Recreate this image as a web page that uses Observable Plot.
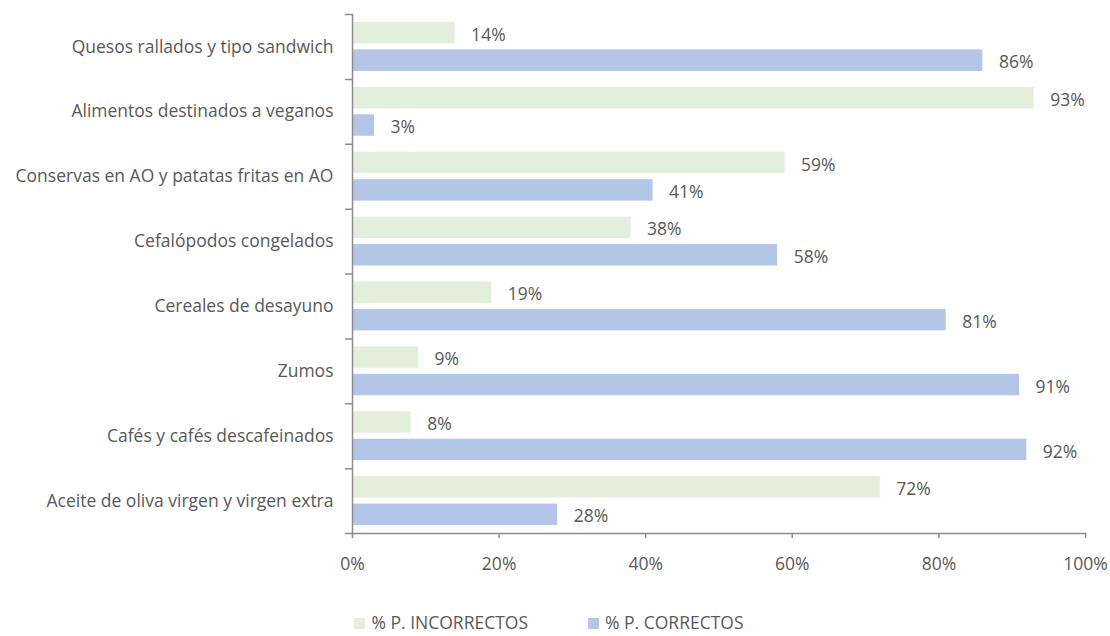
<!DOCTYPE html>
<html><head><meta charset="utf-8">
<script src="https://cdn.jsdelivr.net/npm/d3@7"></script>
<script src="https://cdn.jsdelivr.net/npm/@observablehq/plot@0.6"></script>
<style>
body{margin:0;background:#fff;font-family:"Open Sans",sans-serif;color:#595959;}
#legend{display:flex;justify-content:center;gap:60px;font-size:17.5px;margin-top:3px;padding-right:12px;line-height:22px;}
#legend span.sw{display:inline-block;width:11px;height:11px;margin-right:6px;vertical-align:0px;}
</style></head>
<body>
<div id="chart"></div>
<div id="legend"></div>
<script>
const categories = ["Quesos rallados y tipo sandwich","Alimentos destinados a veganos","Conservas en AO y patatas fritas en AO","Cefalópodos congelados","Cereales de desayuno","Zumos","Cafés y cafés descafeinados","Aceite de oliva virgen y virgen extra"];
const incorrectos = [14, 93, 59, 38, 19, 9, 8, 72];
const correctos = [86, 3, 41, 58, 81, 91, 92, 28];
const seriesNames = ["% P. INCORRECTOS", "% P. CORRECTOS"];
const seriesColors = ["#E2EFDA", "#B4C6E7"];
const xTicks = [0, 20, 40, 60, 80, 100];

const data = [];
categories.forEach((c, i) => {
  data.push({cat: c, series: seriesNames[0], value: incorrectos[i]});
  data.push({cat: c, series: seriesNames[1], value: correctos[i]});
});

const tickShape = {draw(ctx, l) { ctx.moveTo(0, 0); ctx.lineTo(0, -l); }};
const axisColor = "#8c8c8c";
const sw = 1.5;
const fs = 17.5;

const chart = Plot.plot({
  width: 1110, height: 608,
  marginLeft: 352, marginRight: 25, marginTop: 14, marginBottom: 75,
  style: {fontFamily: "Open Sans, sans-serif", fontSize: fs + "px", color: "#595959", background: "#fff"},
  fy: {domain: categories, padding: 0, round: false, label: null},
  y: {domain: seriesNames, paddingInner: 0.22, paddingOuter: 0.29, round: false, axis: null},
  x: {domain: [0, 100]},
  color: {domain: seriesNames, range: seriesColors},
  marks: [
    Plot.barX(data, {fy: "cat", y: "series", x: "value", fill: "series"}),
    Plot.text(data, {fy: "cat", y: "series", x: "value", text: d => d.value + "%", textAnchor: "start", dx: 16, dy: 2, fill: "#595959", fontSize: fs}),
    Plot.ruleX([0], {stroke: axisColor, strokeWidth: sw}),
    Plot.vector([0], {frameAnchor: "top-left", rotate: -90, length: 7, anchor: "start", shape: tickShape, stroke: axisColor, strokeWidth: sw}),
    Plot.vector([0], {frameAnchor: "bottom-left", facetAnchor: "bottom", rotate: -90, length: 7, anchor: "start", shape: tickShape, stroke: axisColor, strokeWidth: sw}),
    Plot.frame({anchor: "bottom", facetAnchor: "bottom", stroke: axisColor, strokeWidth: sw}),
    Plot.axisFy({anchor: "left", tickSize: 0, tickPadding: 19, label: null, fontSize: fs, fill: "#595959"}),
    Plot.axisX({ticks: xTicks, tickFormat: d => d + "%", tickSize: 5, tickPadding: 19, label: null, stroke: axisColor, strokeWidth: sw, fill: "#595959", fontSize: fs})
  ]
});
document.getElementById("chart").append(chart);

const legend = document.getElementById("legend");
seriesNames.forEach((s, i) => {
  const item = document.createElement("div");
  item.innerHTML = `<span class="sw" style="background:${seriesColors[i]}"></span>${s}`;
  legend.append(item);
});
</script>
</body></html>
